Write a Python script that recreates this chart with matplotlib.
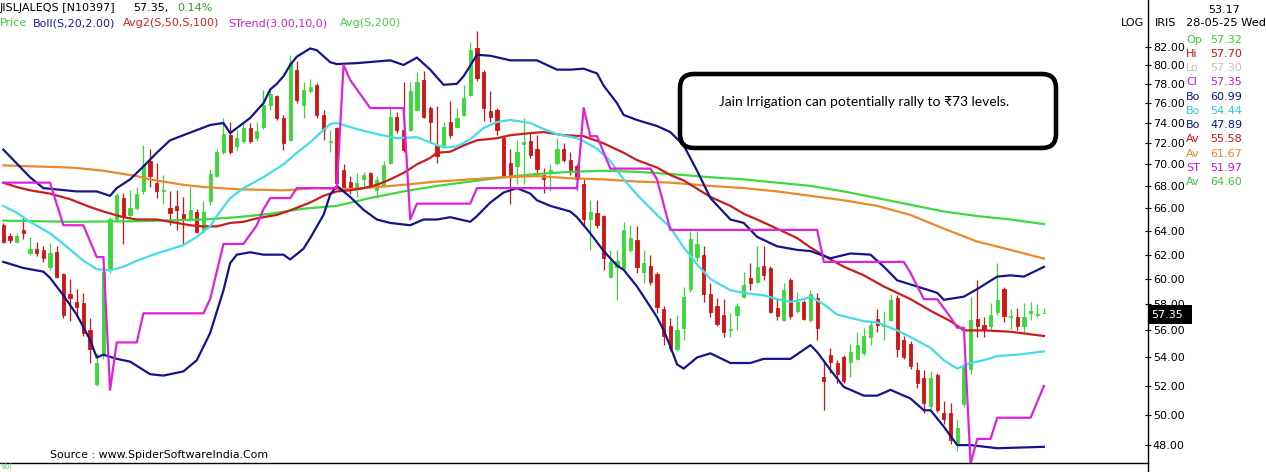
import matplotlib
matplotlib.use("Agg")
import matplotlib.pyplot as plt
from matplotlib.ticker import FixedLocator, NullLocator, FuncFormatter
from matplotlib.patches import FancyBboxPatch, Rectangle
from matplotlib.lines import Line2D
from matplotlib.transforms import IdentityTransform

# JISLJALEQS daily candles, oldest first (last bar = 28-05-25)
opens = [64.5, 63.6, 63.1, 64.1, 62.1, 62.45, 62.4, 61.0, 62.25, 60.4,
         58.8, 58.2, 58.1, 56.0, 52.1, 54.3, 60.9, 65.0, 66.9, 65.4,
         66.0, 67.5, 70.3, 68.25, 67.5, 66.0, 66.2, 65.5, 65.0, 65.7,
         64.1, 66.6, 68.9, 71.2, 72.8, 71.7, 72.2, 73.5, 72.5, 73.65,
         75.8, 76.7, 74.5, 72.3, 79.5, 75.8, 77.2, 77.9, 74.8, 72.1,
         73.5, 69.5, 68.4, 67.8, 68.6, 69.2, 67.6, 68.1, 70.1, 74.6,
         73.3, 73.3, 75.3, 78.4, 75.5, 71.8, 71.8, 74.1, 73.6, 74.8,
         76.85, 81.8, 79.3, 75.2, 75.3, 72.5, 70.1, 69.8, 71.9, 72.2,
         71.5, 69.0, 69.3, 70.1, 71.5, 70.4, 69.8, 68.2, 65.0, 65.6,
         65.3, 60.2, 61.0, 60.9, 62.4, 63.2, 60.6, 61.1, 60.4, 57.6,
         56.3, 54.6, 56.2, 59.2, 61.8, 62.0, 58.8, 57.9, 57.2, 56.0,
         57.2, 58.6, 60.1, 59.8, 61.1, 60.9, 57.7, 56.8, 59.9, 57.5,
         58.2, 56.8, 58.5, 52.6, 54.2, 53.6, 54.0, 53.7, 53.9, 54.3,
         55.5, 56.9, 56.3, 56.8, 58.5, 55.3, 55.0, 53.1, 52.5, 50.6,
         52.75, 50.1, 50.1, 48.1, 50.7, 53.2, 56.9, 56.4, 56.3, 57.4,
         59.2, 57.0, 57.0, 56.3, 57.3, 57.2, 57.32]
highs = [64.7, 63.8, 63.8, 65.2, 63.5, 63.1, 62.7, 62.95, 62.7, 60.5,
         60.0, 59.2, 58.9, 56.95, 54.3, 60.7, 65.2, 67.4, 67.4, 67.6,
         67.9, 71.8, 71.5, 70.1, 69.0, 67.5, 67.6, 67.0, 67.9, 65.9,
         66.6, 69.6, 71.5, 74.5, 74.1, 73.3, 74.0, 74.0, 74.1, 77.4,
         77.4, 76.85, 74.8, 81.1, 80.4, 78.2, 78.5, 78.1, 75.3, 73.3,
         73.6, 70.0, 68.9, 69.2, 69.3, 69.3, 68.9, 70.3, 75.7, 75.1,
         78.2, 78.2, 79.2, 79.4, 75.7, 75.7, 74.1, 76.2, 75.5, 77.9,
         82.5, 83.7, 79.5, 77.2, 75.5, 72.7, 71.5, 72.3, 74.5, 73.0,
         72.8, 69.7, 70.0, 72.5, 72.0, 71.2, 70.0, 68.7, 66.7, 66.7,
         65.4, 62.4, 62.4, 64.8, 64.5, 64.4, 62.4, 62.0, 60.6, 57.9,
         56.95, 57.2, 59.4, 64.0, 64.0, 62.7, 59.7, 58.5, 58.4, 57.3,
         58.1, 60.6, 61.3, 62.7, 62.7, 61.1, 58.4, 59.7, 60.1, 59.0,
         58.35, 59.1, 58.9, 53.8, 54.7, 53.8, 54.2, 55.0, 55.9, 56.2,
         56.7, 57.6, 57.5, 58.8, 58.7, 55.6, 55.2, 53.7, 53.1, 53.0,
         52.9, 50.9, 50.8, 49.7, 53.6, 58.6, 59.9, 57.0, 58.1, 61.3,
         59.4, 57.6, 57.7, 58.1, 58.2, 58.0, 57.70]
lows = [63.0, 63.0, 63.0, 63.3, 62.0, 61.9, 61.4, 60.75, 60.1, 56.95,
        56.7, 57.0, 55.6, 53.6, 52.0, 53.9, 60.5, 64.8, 62.9, 65.0,
        65.8, 67.3, 67.9, 66.9, 66.4, 64.5, 64.1, 62.9, 64.9, 63.8,
        63.85, 66.3, 68.8, 71.0, 71.0, 71.3, 72.0, 72.0, 72.2, 73.4,
        75.3, 74.3, 71.4, 72.2, 76.0, 74.5, 77.0, 74.5, 72.3, 71.2,
        68.1, 67.7, 67.3, 67.0, 67.9, 67.8, 66.9, 68.0, 70.0, 73.0,
        71.2, 73.2, 75.2, 74.5, 72.0, 70.1, 71.7, 72.5, 73.5, 74.7,
        76.7, 78.3, 74.2, 74.1, 72.8, 68.8, 66.4, 68.2, 68.2, 70.6,
        69.2, 67.4, 67.5, 69.9, 70.2, 69.0, 67.6, 64.5, 62.4, 64.3,
        60.75, 60.1, 58.35, 60.7, 62.2, 60.5, 59.7, 59.5, 57.3, 54.9,
        54.5, 54.5, 55.3, 59.0, 61.5, 58.2, 57.0, 56.3, 55.5, 55.5,
        56.0, 58.5, 59.1, 59.7, 59.9, 57.3, 56.8, 56.7, 56.9, 57.3,
        56.8, 56.6, 55.3, 50.3, 52.9, 52.2, 52.2, 52.6, 53.8, 54.2,
        54.9, 55.9, 55.3, 56.7, 54.0, 53.9, 53.2, 51.8, 50.1, 50.4,
        50.2, 49.4, 48.1, 47.6, 50.5, 52.8, 55.5, 55.5, 56.0, 57.2,
        56.6, 56.1, 56.0, 55.9, 56.8, 57.0, 57.30]
closes = [63.1, 63.2, 63.6, 63.8, 62.45, 62.1, 61.7, 62.1, 60.2, 57.2,
          58.5, 57.8, 55.8, 54.6, 53.6, 60.6, 65.0, 67.2, 65.3, 66.0,
          67.3, 69.9, 68.9, 67.5, 67.64, 65.6, 65.8, 65.0, 65.85, 63.95,
          65.7, 69.1, 71.2, 72.95, 71.2, 72.5, 73.5, 72.2, 73.2, 75.8,
          76.9, 74.5, 72.0, 80.2, 76.3, 77.4, 77.7, 74.8, 73.3, 72.2,
          68.25, 67.9, 67.9, 68.25, 69.0, 67.9, 68.5, 69.9, 74.6, 73.3,
          71.4, 77.2, 78.2, 74.6, 74.1, 70.8, 73.6, 72.8, 74.5, 76.5,
          81.6, 78.6, 75.5, 74.6, 73.3, 68.9, 69.0, 71.2, 72.1, 70.9,
          69.6, 68.6, 69.5, 71.5, 70.4, 69.5, 68.6, 65.0, 65.7, 64.5,
          61.7, 61.4, 61.5, 64.1, 63.4, 61.0, 61.3, 59.8, 57.8, 55.6,
          54.7, 56.0, 58.6, 63.3, 62.9, 58.8, 57.4, 56.5, 55.9, 56.1,
          57.9, 59.5, 59.7, 61.0, 60.3, 57.4, 57.1, 59.1, 57.1, 58.2,
          56.9, 58.8, 56.2, 52.3, 53.7, 52.8, 52.3, 54.4, 54.9, 55.6,
          56.4, 56.4, 56.5, 58.35, 54.6, 54.0, 53.4, 52.2, 50.8, 52.5,
          50.3, 49.7, 48.3, 49.1, 53.4, 56.8, 56.3, 56.0, 57.2, 58.35,
          57.1, 57.1, 56.3, 57.0, 57.5, 57.27, 57.35]

# indicator lines, read at sample bars (bar index, value)
bb_up_idx = [0, 4, 6, 11, 14, 16, 17, 19, 21, 23, 25, 27, 29, 31, 33, 34, 35, 37, 39, 40,
             41, 42, 43, 44, 46, 47, 49, 50, 53, 58, 60, 62, 64, 66, 68, 69, 71, 73, 76, 80,
             83, 85, 87, 89, 90, 92, 93, 95, 98, 100, 102, 104, 106, 109, 111, 113, 116, 119, 121, 124,
             127, 130, 132, 134, 137, 140, 141, 144, 146, 149, 151, 153, 156]
bb_up = [71.4, 68.8, 67.8, 67.5, 67.5, 67.1, 67.8, 68.6, 69.8, 71.1, 72.3, 72.8, 73.3, 73.8, 74.0, 73.0, 73.5, 74.5, 76.0, 77.4,
         78.0, 78.8, 80.0, 80.9, 81.8, 81.6, 80.3, 80.1, 80.2, 80.5, 80.0, 80.8, 79.5, 77.9, 78.0, 78.8, 81.1, 81.0, 80.5, 80.5,
         79.5, 79.5, 79.6, 79.1, 77.8, 76.0, 74.8, 74.3, 73.7, 73.1, 71.8, 69.4, 66.9, 65.0, 64.7, 63.5, 62.7, 62.4, 62.3, 61.7,
         62.1, 62.0, 61.0, 59.9, 59.4, 58.9, 58.35, 58.6, 59.2, 60.2, 60.3, 60.2, 60.99]

bb_mid_idx = [0, 2, 4, 7, 9, 12, 14, 16, 18, 20, 23, 25, 27, 29, 31, 32, 34, 36, 39, 41,
              42, 44, 46, 48, 49, 50, 53, 56, 59, 62, 64, 66, 68, 70, 72, 74, 76, 79, 81, 83,
              86, 87, 89, 91, 93, 95, 98, 100, 102, 104, 106, 109, 111, 114, 116, 118, 120, 121, 123, 125,
              129, 131, 134, 136, 139, 141, 143, 145, 147, 149, 152, 156]
bb_mid = [66.2, 65.6, 64.8, 63.8, 62.9, 61.5, 60.8, 60.7, 61.0, 61.5, 62.1, 62.45, 62.8, 63.5, 64.4, 65.3, 66.9, 67.8, 68.8, 69.6,
          70.0, 71.1, 72.1, 73.3, 73.9, 74.0, 73.4, 72.9, 72.5, 72.6, 72.1, 71.6, 71.7, 72.4, 73.5, 74.1, 74.3, 74.0, 73.4, 72.9,
          72.5, 72.2, 71.5, 70.3, 68.6, 67.2, 65.4, 64.3, 62.6, 61.2, 60.0, 59.1, 58.9, 58.7, 58.4, 58.2, 58.4, 58.6, 58.0, 57.2,
          56.7, 56.6, 56.0, 55.5, 54.7, 53.8, 53.2, 53.6, 53.8, 54.1, 54.2, 54.44]

bb_low_idx = [0, 3, 6, 7, 9, 11, 13, 14, 15, 17, 19, 22, 24, 27, 29, 31, 33, 34, 35, 37,
              39, 42, 43, 45, 46, 48, 49, 50, 52, 54, 56, 58, 61, 63, 65, 67, 70, 71, 73, 75,
              77, 79, 80, 82, 85, 86, 88, 90, 92, 93, 95, 97, 98, 99, 100, 101, 102, 104, 106, 109,
              112, 114, 118, 121, 122, 124, 126, 129, 131, 133, 136, 138, 139, 141, 143, 145, 149, 156]
bb_low = [61.4, 60.9, 60.6, 60.1, 58.7, 57.2, 55.3, 54.0, 54.2, 53.9, 53.7, 52.8, 52.7, 53.0, 53.8, 55.8, 59.1, 61.3, 62.0, 62.2,
          62.0, 62.0, 61.6, 62.5, 63.4, 65.4, 67.2, 68.0, 67.0, 65.85, 65.0, 64.7, 64.5, 65.0, 65.0, 65.2, 64.8, 65.3, 66.5, 67.4,
          67.8, 67.3, 66.7, 66.2, 65.7, 65.2, 63.8, 62.3, 61.1, 60.75, 59.4, 57.8, 57.0, 56.0, 54.8, 53.5, 53.2, 54.0, 54.3, 53.6,
          53.6, 53.9, 53.9, 54.9, 54.4, 53.1, 51.9, 51.3, 51.3, 51.7, 51.1, 50.3, 50.3, 49.2, 48.0, 48.0, 47.8, 47.89]

avg50_idx = [0, 2, 4, 7, 10, 13, 15, 18, 20, 23, 25, 28, 30, 32, 34, 36, 38, 41, 43, 46,
             48, 50, 52, 54, 56, 58, 60, 62, 64, 65, 67, 69, 71, 74, 76, 79, 81, 84, 87, 90,
             93, 95, 98, 100, 102, 106, 109, 111, 113, 116, 119, 121, 124, 126, 129, 132, 136, 139, 142, 144,
             147, 151, 156]
avg50 = [68.3, 67.9, 67.6, 67.3, 66.8, 66.1, 65.7, 65.2, 65.0, 65.0, 64.8, 64.5, 64.4, 64.4, 64.7, 64.8, 65.1, 65.4, 65.8, 66.5,
         67.1, 67.5, 67.6, 67.8, 68.1, 68.6, 69.2, 70.0, 70.6, 71.1, 71.2, 71.8, 72.3, 72.5, 72.8, 73.0, 73.1, 72.8, 72.7, 72.0,
         71.1, 70.4, 69.7, 69.0, 68.5, 67.0, 66.2, 65.5, 65.0, 64.2, 63.4, 62.6, 61.6, 61.0, 60.3, 59.4, 58.4, 57.5, 56.7, 56.0,
         56.0, 55.9, 55.58]

avg100_idx = [0, 5, 10, 12, 15, 17, 20, 22, 25, 27, 30, 35, 42, 47, 52, 60, 65, 70, 75, 80,
              85, 90, 95, 100, 106, 111, 116, 121, 126, 131, 136, 141, 146, 151, 156]
avg100 = [69.9, 69.8, 69.7, 69.6, 69.4, 69.2, 68.9, 68.6, 68.3, 68.1, 67.9, 67.7, 67.6, 67.8, 67.7, 68.1, 68.4, 68.6, 68.8, 68.9,
          68.7, 68.6, 68.4, 68.3, 68.0, 67.8, 67.5, 67.1, 66.7, 66.2, 65.4, 64.2, 63.1, 62.4, 61.67]

avg200_idx = [0, 10, 20, 30, 35, 40, 45, 50, 55, 60, 65, 70, 75, 80, 85, 90, 95, 100, 106, 111,
              116, 121, 126, 131, 136, 141, 146, 151, 156]
avg200 = [64.9, 64.8, 64.85, 65.0, 65.2, 65.5, 65.95, 66.2, 66.9, 67.5, 68.0, 68.4, 68.8, 69.1, 69.3, 69.4, 69.3, 69.1, 68.8, 68.6,
          68.3, 68.0, 67.5, 66.9, 66.3, 65.7, 65.3, 65.0, 64.6]

st_idx = [0, 7, 9, 12, 14, 15, 16, 17, 20, 21, 30, 31, 33, 36, 38, 39, 40, 43, 44, 50,
          51, 52, 55, 60, 61, 62, 70, 71, 86, 87, 88, 89, 91, 97, 98, 100, 122, 123, 135, 136,
          138, 140, 142, 143, 144, 145, 146, 148, 149, 154, 156]
strend = [68.3, 68.3, 64.5, 64.5, 61.8, 61.8, 51.7, 55.1, 55.1, 57.3, 57.3, 58.4, 62.9, 62.9, 64.5, 65.9, 66.9, 66.9, 67.8, 67.8,
          80.0, 78.4, 75.5, 75.5, 65.0, 66.4, 66.4, 67.8, 67.8, 75.5, 72.7, 72.7, 69.6, 69.6, 68.6, 64.1, 64.1, 61.4, 61.4, 60.5,
          58.4, 58.4, 57.0, 56.2, 56.2, 46.8, 48.4, 48.4, 49.8, 49.8, 51.97]

W, H = 1266, 472
fig = plt.figure(figsize=(W / 100, H / 100), dpi=100)
ax = fig.add_axes([0, 9 / H, 1148 / W, 463 / H])

up_col, dn_col = "#3ad83a", "#d01515"
for i in range(len(opens)):
    c = up_col if closes[i] >= opens[i] else dn_col
    ax.vlines(i, lows[i], highs[i], color=c, lw=0.9, zorder=2)
    ax.bar(i, closes[i] - opens[i], bottom=opens[i], width=0.48, color=c,
           edgecolor=c, lw=0.6, zorder=2)

lw = 1.6
ax.plot(avg200_idx, avg200, color="#3fd83f", lw=lw, zorder=3)
ax.plot(avg100_idx, avg100, color="#e88a2e", lw=lw, zorder=3)
ax.plot(avg50_idx, avg50, color="#c81e1e", lw=lw, zorder=3)
ax.plot(bb_mid_idx, bb_mid, color="#44dce6", lw=lw, zorder=3)
ax.plot(bb_up_idx, bb_up, color="#14148c", lw=lw, zorder=3)
ax.plot(bb_low_idx, bb_low, color="#14148c", lw=lw, zorder=3)
ax.plot(st_idx, strend, color="#dd22dd", lw=lw, zorder=3)

ax.set_yscale("log")
ax.set_ylim(46.86, 87.3)
ax.set_xlim(-0.5, 171.6)
ticks = list(range(48, 84, 2))
ax.yaxis.set_major_locator(FixedLocator(ticks))
ax.yaxis.set_minor_locator(NullLocator())
ax.yaxis.set_major_formatter(FuncFormatter(lambda v, p: f"{v:.2f}"))
ax.yaxis.tick_right()
ax.tick_params(axis="y", direction="inout", length=5, width=0.8, pad=1, labelsize=8)
ax.set_xticks([])
for s in ["top", "left"]:
    ax.spines[s].set_visible(False)
for s in ["right", "bottom"]:
    ax.spines[s].set_color("black")
    ax.spines[s].set_linewidth(1.0)
fig.add_artist(Line2D([1148 / W] * 2, [0, 9 / H], color="black", lw=1.0))


def ftext(x, y, s, **kw):
    kw.setdefault("fontsize", 8)
    kw.setdefault("va", "center")
    fig.text(x / W, 1 - y / H, s, **kw)


# header
ftext(0, 8, "JISLJALEQS [N10397]")
ftext(133, 8, "57.35,")
ftext(177, 8, "0.14%", color="#2e9e2e")
ftext(0, 23, "Price", color="#44cc44")
ftext(33, 23, "Boll(S,20,2.00)", color="#1a1a9a")
ftext(123, 23, "Avg2(S,50,S,100)", color="#cc2222")
ftext(228, 23, "STrend(3.00,10,0)", color="#cc22cc")
ftext(340, 23, "Avg(S,200)", color="#44cc44")

# comment box
box = FancyBboxPatch((680, H - 148), 376, 74, boxstyle="round,pad=0,rounding_size=14",
                     transform=IdentityTransform(), facecolor="white", edgecolor="black",
                     lw=3.3, zorder=10)
fig.add_artist(box)
ftext(864, 102, "Jain Irrigation can potentially rally to \u20b973 levels.", ha="center",
      fontsize=10, family=["Lato", "DejaVu Sans"], zorder=11)

ftext(50, 455, "Source : www.SpiderSoftwareIndia.Com", fontsize=7.9)
ftext(1, 471, "Vol", color="#66dd66", va="bottom", fontsize=5.5)

# right side panel
ftext(1121, 23, "LOG")
ftext(1155, 23, "IRIS")
ftext(1208, 10, "53.17")
ftext(1186, 23, "28-05-25 Wed", fontsize=8.2)
labels = ["Op", "Hi", "Lo", "Cl", "Bo", "Bo", "Bo", "Av", "Av", "ST", "Av"]
values = ["57.32", "57.70", "57.30", "57.35", "60.99", "54.44", "47.89", "55.58", "61.67", "51.97", "64.60"]
colors = ["#33cc33", "#cc1111", "#c0c0c0", "#cc11cc", "#10108a", "#33cccc", "#10108a",
          "#cc1111", "#e08a2a", "#cc11cc", "#33cc33"]
for k in range(len(labels)):
    ftext(1186, 39.6 + 14.25 * k, labels[k], color=colors[k])
    ftext(1210, 39.6 + 14.25 * k, values[k], color=colors[k])

# last price tag
fig.add_artist(Rectangle((1149, H - 324), 43, 19, transform=IdentityTransform(),
                         facecolor="black", edgecolor="none", zorder=10))
ftext(1151, 314.5, "57.35", color="white", zorder=11)

fig.savefig("out.png", dpi=100)
